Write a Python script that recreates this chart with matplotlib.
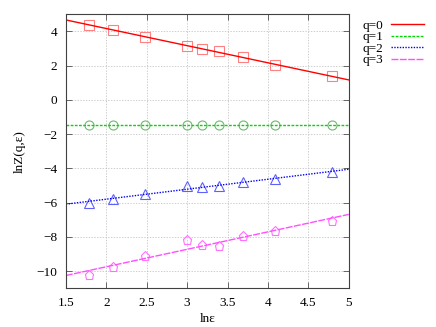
import numpy as np
import matplotlib.pyplot as plt

# ln(eps) for the box sizes
lneps = [1.79, 2.08, 2.48, 3.00, 3.18, 3.40, 3.69, 4.09, 4.79]

# lnZ(q, eps)
z_q0 = [4.37, 4.08, 3.65, 3.15, 2.96, 2.82, 2.49, 2.04, 1.36]
z_q1 = [-1.47, -1.47, -1.47, -1.47, -1.47, -1.47, -1.47, -1.47, -1.47]
z_q2 = [-5.99, -5.79, -5.50, -5.01, -5.11, -5.05, -4.80, -4.59, -4.22]
z_q3 = [-10.20, -9.78, -9.13, -8.18, -8.48, -8.55, -7.93, -7.64, -7.06]

labels = ['q=0', 'q=1', 'q=2', 'q=3']

plt.rcParams['font.family'] = ['Liberation Serif', 'DejaVu Serif']
plt.rcParams['font.size'] = 9.5

fig = plt.figure(figsize=(4.36, 3.27), dpi=100)
ax = fig.add_axes([0.151, 0.118, 0.649, 0.839])

series = [z_q0, z_q1, z_q2, z_q3]
markers = ['s', 'o', '^', 'p']
mcolors = ['#ff8080', '#70b870', '#6060ff', '#ff70ff']
lcolors = ['#ff0000', '#00d800', '#0000ff', '#ff50ff']
lstyles = ['-', (0, (2, 1)), (0, (1, 1)), (0, (5, 1))]

xs = np.array([1.5, 5.0])
for y, m, mc, lc, ls, lab in zip(series, markers, mcolors, lcolors, lstyles, labels):
    ax.plot(lneps, y, linestyle='none', marker=m, markersize=6.5,
            markerfacecolor='none', markeredgecolor=mc, markeredgewidth=0.8)
    k, b = np.polyfit(lneps, y, 1)
    ax.plot(xs, k * xs + b, color=lc, linestyle=ls, linewidth=1.0, label=lab)

ax.set_xlim(1.5, 5)
ax.set_ylim(-11, 5)
ax.set_xticks(np.arange(1.5, 5.01, 0.5))
ax.set_xticklabels(['1.5', '2', '2.5', '3', '3.5', '4', '4.5', '5'])
ax.set_yticks(np.arange(-10, 5, 2))
ax.tick_params(direction='in', top=True, right=True, length=4, width=0.6,
               color='#505050', pad=6)
ax.grid(True, color='#bbbbbb', linestyle=(0, (2, 2)), linewidth=0.5)
for s in ax.spines.values():
    s.set_color('#404040')
    s.set_linewidth(0.8)

ax.set_xlabel('lnε', labelpad=3)
ax.set_ylabel('lnZ(q,ε)', labelpad=8)

ax.legend(loc='upper left', bbox_to_anchor=(1.03, 1.0), frameon=False,
          markerfirst=False, handlelength=2.5, handletextpad=0.6,
          labelspacing=-0.05, borderaxespad=0.0, fontsize=9.5)

fig.savefig('out.png', dpi=100)
